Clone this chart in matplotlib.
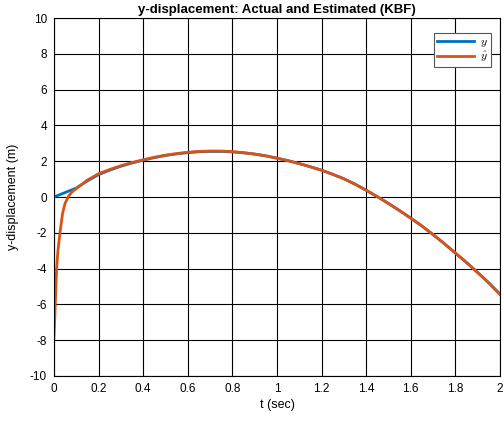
import numpy as np
import matplotlib.pyplot as plt

plt.rcParams['font.family'] = ['Liberation Sans', 'DejaVu Sans']
plt.rcParams['mathtext.fontset'] = 'cm'
plt.rcParams['axes.unicode_minus'] = False

# actual y-displacement
t_act = [0, 0.05, 0.1, 0.15, 0.2, 0.25, 0.3, 0.35, 0.4, 0.45, 0.5, 0.55, 0.6, 0.65,
         0.7, 0.75, 0.8, 0.85, 0.9, 0.95, 1.0, 1.05, 1.1, 1.15, 1.2, 1.25, 1.3,
         1.35, 1.4, 1.45, 1.5, 1.55, 1.6, 1.65, 1.7, 1.75, 1.8, 1.85, 1.9, 1.95, 2.0]
y_act = [0.0, 0.25, 0.5, 0.9, 1.25, 1.5, 1.72, 1.9, 2.06, 2.2, 2.32, 2.41, 2.48, 2.53,
         2.55, 2.55, 2.52, 2.47, 2.4, 2.3, 2.17, 2.03, 1.87, 1.69, 1.5, 1.27, 1.02,
         0.72, 0.38, 0.02, -0.36, -0.76, -1.18, -1.62, -2.1, -2.6, -3.13, -3.66, -4.22, -4.8, -5.42]

# KBF estimate
t_est = [0, 0.003, 0.006, 0.009, 0.012, 0.018, 0.027, 0.039, 0.05, 0.066, 0.08, 0.1,
         0.12, 0.15, 0.2, 0.25, 0.3, 0.35, 0.4, 0.45, 0.5, 0.55, 0.6, 0.65,
         0.7, 0.75, 0.8, 0.85, 0.9, 0.95, 1.0, 1.05, 1.1, 1.15, 1.2, 1.25, 1.3,
         1.35, 1.4, 1.45, 1.5, 1.55, 1.6, 1.65, 1.7, 1.75, 1.8, 1.85, 1.9, 1.95, 2.0]
y_est = [-7.9, -7.0, -6.0, -5.0, -4.0, -3.0, -2.0, -0.9, -0.35, 0.05, 0.27, 0.47,
         0.66, 0.95, 1.3, 1.54, 1.75, 1.93, 2.08, 2.22, 2.34, 2.43, 2.5, 2.55,
         2.57, 2.57, 2.54, 2.48, 2.4, 2.3, 2.17, 2.03, 1.87, 1.69, 1.5, 1.27, 1.02,
         0.72, 0.38, 0.02, -0.36, -0.76, -1.18, -1.62, -2.1, -2.6, -3.13, -3.66, -4.22, -4.8, -5.45]

fig = plt.figure(figsize=(5.04, 4.21), dpi=100)
ax = fig.add_axes([0.107, 0.107, 0.885, 0.85])

ax.plot(t_act, y_act, color='#0072BD', lw=2, label='$y$')
ax.plot(t_est, y_est, color='#D95319', lw=2, label=r'$\hat{y}$')

ax.set_xlim(0, 2)
ax.set_ylim(-10, 10)
ax.set_xticks(np.arange(0, 2.01, 0.2))
ax.set_xticklabels(['0', '0.2', '0.4', '0.6', '0.8', '1', '1.2', '1.4', '1.6', '1.8', '2'])
ax.set_yticks(np.arange(-10, 11, 2))
ax.grid(True, color='k', lw=0.8)
ax.tick_params(direction='in', labelsize=8.5, length=3, width=0.6, pad=5)
for s in ax.spines.values():
    s.set_linewidth(0.8)

ax.set_xlabel('t (sec)', fontsize=9, labelpad=3)
ax.set_ylabel('y-displacement (m)', fontsize=9, labelpad=8)
ax.set_title('y-displacement: Actual and Estimated (KBF)', fontsize=9.5, fontweight='bold', pad=4)

leg = ax.legend(loc='upper right', bbox_to_anchor=(491 / 504, 1 - 33 / 421),
                bbox_transform=fig.transFigure, fontsize=8.5, fancybox=False,
                framealpha=1, edgecolor='#555555', handlelength=3.2, borderpad=0.25,
                labelspacing=0.1, borderaxespad=0, handletextpad=0.5)
leg.get_frame().set_linewidth(0.8)

fig.savefig('out.png')
